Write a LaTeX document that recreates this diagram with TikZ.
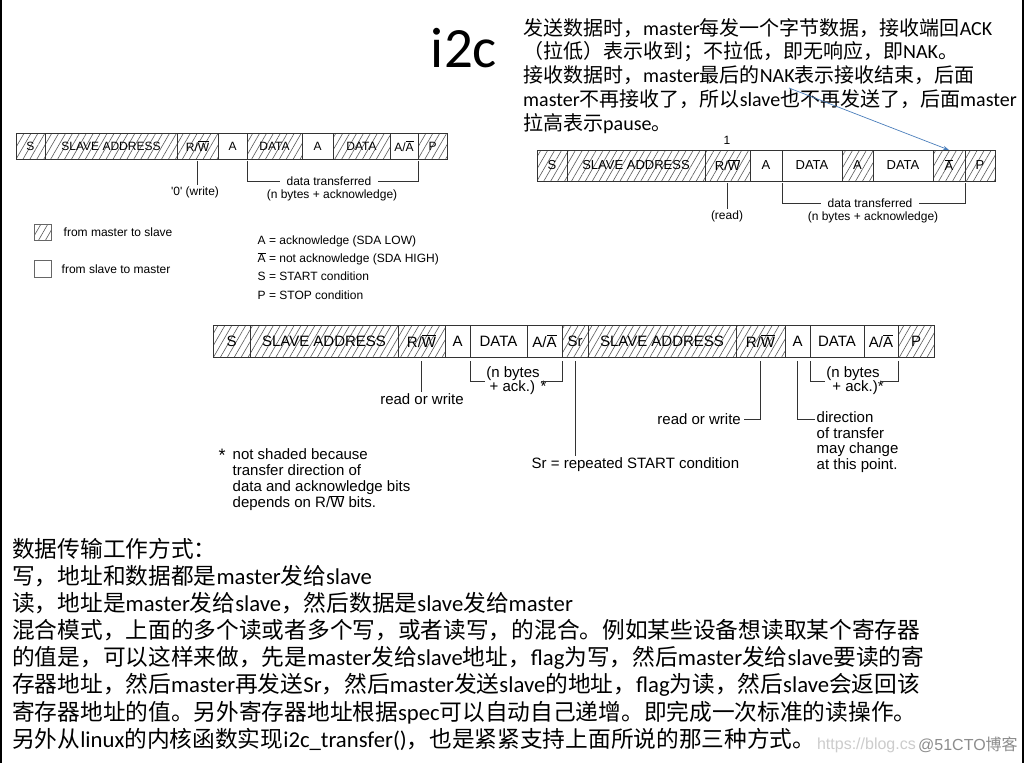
\documentclass[tikz,border=0pt]{standalone}
\usepackage{fontspec}
\setmainfont{Liberation Sans}
\newfontfamily\latinfont{Carlito}
\newfontfamily\cjk{Noto Sans CJK SC}
\usetikzlibrary{arrows.meta,positioning,patterns.meta}
\definecolor{noteblue}{RGB}{74,126,187}

\XeTeXinterchartokenstate=1
\newXeTeXintercharclass\cjkclass
\newcount\cjkcode
\def\setcjkrange#1#2{\cjkcode=#1\relax
  \loop\XeTeXcharclass\cjkcode=\cjkclass
  \ifnum\cjkcode<#2\relax\advance\cjkcode by 1\repeat}
\setcjkrange{"3000}{"303F}
\setcjkrange{"4E00}{"9FFF}
\setcjkrange{"FF00}{"FFEF}
\XeTeXinterchartoks 0 \cjkclass = {\cjk}
\XeTeXinterchartoks 4095 \cjkclass = {\cjk}
\XeTeXinterchartoks \cjkclass 0 = {\latinfont}
\XeTeXinterchartoks \cjkclass 4095 = {\latinfont}

\begin{document}
\begin{tikzpicture}[
        x=1pt, y=-1pt,
        lcell/.style={
            draw=black!80,
            line width=0.7pt,
            minimum height=26pt,
            inner sep=0pt,
            outer sep=0pt,
            anchor=west,
            font=\fontsize{12}{14}\selectfont
        },
        rcell/.style={lcell, minimum height=31pt, font=\fontsize{13}{15}\selectfont},
        mcell/.style={lcell, minimum height=32pt, font=\fontsize{15}{17}\selectfont},
        hatch/.style={
            pattern={Lines[angle=60,distance=6pt,line width=0.6pt]},
            pattern color=black!65
        },
        lab/.style={font=\fontsize{12}{14}\selectfont, inner sep=1.5pt},
        gap/.style={inner xsep=6pt},
        mlab/.style={font=\fontsize{15}{16}\selectfont, inner sep=1.5pt, align=left},
        lead/.style={draw=black!80, line width=0.6pt},
        cntext/.style={anchor=north west, inner sep=0pt, align=left},
        note/.style={
            -{Stealth[length=6pt,width=4pt]},
            line width=0.7pt,
            draw=noteblue
        }
    ]
        \fill[white] (0,0) rectangle (1028,763);
        \useasboundingbox (0,0) rectangle (1028,763);
        \draw[line width=2pt] (1,0) -- (1,763);
        \draw[line width=2pt] (1023,0) -- (1023,763);

        \node[font=\latinfont\fontsize{57}{60}\selectfont] (title) at (464,48) {i2c};
        \node[cntext, font=\latinfont\fontsize{20}{23.8}\selectfont] (sendnote) at (523,18) {发送数据时，master每发一个字节数据，接收端回ACK\\（拉低）表示收到；不拉低，即无响应，即NAK。\\接收数据时，master最后的NAK表示接收结束，后面\\master不再接收了，所以slave也不再发送了，后面master\\拉高表示pause。};

        \node[lcell, hatch, minimum width=29pt] (lS) at (16,146) {S};
        \node[lcell, hatch, minimum width=132pt, right=0pt of lS] (lAddr) {SLAVE ADDRESS};
        \node[lcell, hatch, minimum width=41pt, right=0pt of lAddr] (lRW) {R/$\overline{\mbox{W}}$};
        \node[lcell, minimum width=29pt, right=0pt of lRW] (lA1) {A};
        \node[lcell, hatch, minimum width=55pt, right=0pt of lA1] (lData1) {DATA};
        \node[lcell, minimum width=31pt, right=0pt of lData1] (lA2) {A};
        \node[lcell, hatch, minimum width=57pt, right=0pt of lA2] (lData2) {DATA};
        \node[lcell, minimum width=28pt, right=0pt of lData2] (lAA) {A/$\overline{\mbox{A}}$};
        \node[lcell, hatch, minimum width=29pt, right=0pt of lAA] (lP) {P};

        \node[lab] (lwrite) at (195,192) {\textquotesingle0\textquotesingle{} (write)};
        \node[lab, gap] (lxfer) at (329,181) {data transferred};
        \node[lab] (lxferII) at (332,195) {(n bytes + acknowledge)};
        \draw[lead, shorten <=2pt] (lRW.south) -- (lRW.south |- lwrite.north);
        \draw[lead, shorten <=2pt] (lData1.south west) |- (lxfer.west);
        \draw[lead, shorten <=2pt] (lAA.south east) |- (lxfer.east);

        \node[rcell, hatch, minimum width=30pt] (rS) at (537,165.5) {S};
        \node[rcell, hatch, minimum width=138pt, right=0pt of rS] (rAddr) {SLAVE ADDRESS};
        \node[rcell, hatch, minimum width=45pt, right=0pt of rAddr] (rRW) {R/$\overline{\mbox{W}}$};
        \node[rcell, minimum width=32pt, right=0pt of rRW] (rA1) {A};
        \node[rcell, minimum width=60pt, right=0pt of rA1] (rData1) {DATA};
        \node[rcell, hatch, minimum width=31pt, right=0pt of rData1] (rA2) {A};
        \node[rcell, minimum width=60pt, right=0pt of rA2] (rData2) {DATA};
        \node[rcell, hatch, minimum width=32pt, right=0pt of rData2] (rAbar) {$\overline{\mbox{A}}$};
        \node[rcell, hatch, minimum width=30pt, right=0pt of rAbar] (rP) {P};

        \node[lab] (rone) at (727,140) {1};
        \node[lab] (rread) at (727,216) {(read)};
        \node[lab, gap] (rxfer) at (870,203) {data transferred};
        \node[lab] (rxferII) at (873,217) {(n bytes + acknowledge)};
        \draw[lead, shorten <=2pt] (rRW.south) -- (rRW.south |- rread.north);
        \draw[lead, shorten <=2pt] (rData1.south west) |- (rxfer.west);
        \draw[lead, shorten <=2pt] (rAbar.south east) |- (rxfer.east);

        \coordinate (nakend) at (789,88);
        \draw[note] (nakend) -- (rAbar.north);

        \node[lcell, hatch, draw=black!60, minimum width=17pt, minimum height=16pt, anchor=center] (keyhatch) at (42.5,232) {};
        \node[lcell, draw=black!60, minimum width=17pt, minimum height=17pt, anchor=center] (keyplain) at (42.5,268.5) {};
        \node[lab, anchor=west] (keyhatchtxt) at (62,232) {from master to slave};
        \node[lab, anchor=west] (keyplaintxt) at (60,269) {from slave to master};
        \node[lab, align=left, anchor=north west, font=\fontsize{12}{18.3}\selectfont] (abbrev) at (256,234) {A = acknowledge (SDA LOW)\\$\overline{\mbox{A}}$ = not acknowledge (SDA HIGH)\\S = START condition\\P = STOP condition};

        \node[mcell, hatch, minimum width=37pt] (mS) at (213,341) {S};
        \node[mcell, hatch, minimum width=148pt, right=0pt of mS] (mAddr1) {SLAVE ADDRESS};
        \node[mcell, hatch, minimum width=47pt, right=0pt of mAddr1] (mRW1) {R/$\overline{\mbox{W}}$};
        \node[mcell, minimum width=25pt, right=0pt of mRW1] (mA1) {A};
        \node[mcell, minimum width=57pt, right=0pt of mA1] (mData1) {DATA};
        \node[mcell, minimum width=35pt, right=0pt of mData1] (mAA1) {A/$\overline{\mbox{A}}$};
        \node[mcell, hatch, minimum width=26pt, right=0pt of mAA1] (mSr) {Sr};
        \node[mcell, hatch, minimum width=148pt, right=0pt of mSr] (mAddr2) {SLAVE ADDRESS};
        \node[mcell, hatch, minimum width=49pt, right=0pt of mAddr2] (mRW2) {R/$\overline{\mbox{W}}$};
        \node[mcell, minimum width=25pt, right=0pt of mRW2] (mA2) {A};
        \node[mcell, minimum width=54pt, right=0pt of mA2] (mData2) {DATA};
        \node[mcell, minimum width=34pt, right=0pt of mData2] (mAA2) {A/$\overline{\mbox{A}}$};
        \node[mcell, hatch, minimum width=36pt, right=0pt of mAA2] (mP) {P};

        \node[mlab] (mrwI) at (422,399) {read or write};
        \node[mlab] (mbytesI) at (513,374) {(n bytes};
        \node[mlab] (mackI) at (518,388) {+ ack.) *};
        \node[mlab, anchor=west] (msr) at (530,465) {Sr = repeated START condition};
        \node[mlab, anchor=east, inner xsep=3pt] (mrwII) at (744,419) {read or write};
        \node[mlab, anchor=north west, font=\fontsize{15}{15.5}\selectfont] (mdir) at (815,410) {direction\\of transfer\\may change\\at this point.};
        \node[mlab] (mbytesII) at (853,374) {(n bytes};
        \node[mlab] (mackII) at (858,388) {+ ack.)*};
        \draw[lead, shorten <=4pt] (mRW1.south) -- (mRW1.south |- mrwI.north);
        \draw[lead, shorten <=4pt] (mData1.south west) |- ([yshift=-3pt]mbytesI.base west);
        \draw[lead, shorten <=4pt] (mAA1.south east) |- ([yshift=-3pt]mbytesI.base east);
        \draw[lead, shorten <=4pt] (mSr.south) -- (mSr.south |- msr.north);
        \draw[lead, shorten <=4pt] (mRW2.south) |- (mrwII.east);
        \draw[lead, shorten <=4pt] (mA2.south) |- ([yshift=-9pt]mdir.north west);
        \draw[lead, shorten <=4pt] (mData2.south west) |- ([yshift=-3pt]mbytesII.base west);
        \draw[lead, shorten <=4pt] (mAA2.south east) |- ([yshift=-3pt]mbytesII.base east);

        \node[mlab, font=\fontsize{18}{18}\selectfont] (fnstar) at (222,455) {*};
        \node[mlab, anchor=north west, font=\fontsize{15}{16}\selectfont] (fnote) at (231,447) {not shaded because\\transfer direction of\\data and acknowledge bits\\depends on R/$\overline{\mbox{W}}$ bits.};

        \node[cntext, font=\latinfont\fontsize{22.7}{27.1}\selectfont] (modes) at (12,538) {数据传输工作方式：\\写，地址和数据都是master发给slave\\读，地址是master发给slave，然后数据是slave发给master\\混合模式，上面的多个读或者多个写，或者读写，的混合。例如某些设备想读取某个寄存器\\的值是，可以这样来做，先是master发给slave地址，flag为写，然后master发给slave要读的寄\\存器地址，然后master再发送Sr，然后master发送slave的地址，flag为读，然后slave会返回该\\寄存器地址的值。另外寄存器地址根据spec可以自动自己递增。即完成一次标准的读操作。\\另外从linux的内核函数实现i2c\_transfer()，也是紧紧支持上面所说的那三种方式。};

        \node[anchor=east, text=black!20, font=\fontsize{16}{18}\selectfont, inner sep=0pt] (wmurl) at (916,745) {https://blog.cs};
        \node[anchor=west, text=black!45, font=\fontsize{16}{18}\selectfont, inner sep=0pt] (wmmark) at (918,745) {@51CTO博客};
    \end{tikzpicture}
\end{document}
